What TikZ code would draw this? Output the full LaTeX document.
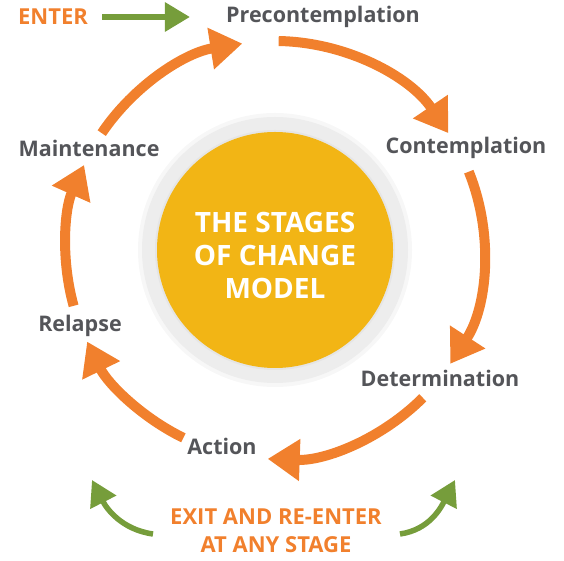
\documentclass[tikz,border=0pt]{standalone}
\usepackage{fontspec}
\setmainfont{Open Sans}
\usetikzlibrary{arrows.meta,calc}

\definecolor{cycleorange}{RGB}{241,128,45}
\definecolor{entergreen}{RGB}{118,157,59}
\definecolor{hubyellow}{RGB}{242,181,21}
\definecolor{stagegrey}{RGB}{84,85,89}

\begin{document}
\begin{tikzpicture}[x=1pt,y=1pt,
	stage/.style={text=stagegrey,font=\bfseries\fontsize{21.5}{24}\selectfont,inner sep=0pt},
	cue/.style={text=cycleorange,font=\bfseries\fontsize{22}{28}\selectfont,inner sep=0pt,align=center},
	cyclearrow/.style={line width=10pt,draw=cycleorange,-{Triangle[length=32pt,width=40pt]}},
	greenarrow/.style={line width=6pt,draw=entergreen,-{Triangle[length=25pt,width=28pt]}}]

	\useasboundingbox (0,0) rectangle (564,561);

	% the hub with its grey rim
	\fill[black!3] (275,311) circle (137);
	\fill[black!7] (275,311) circle (133);
	\fill[black!10] (275,311) circle (120);
	\node[circle,fill=hubyellow,minimum size=236pt,inner sep=0pt] (hub) at (275,311) {};
	\node[text=white,font=\bfseries\fontsize{28}{33}\selectfont,align=center] (title) at ([yshift=-6pt]hub.center) {THE STAGES\\OF CHANGE\\MODEL};

	% stages round the cycle
	\node[stage] (pre) at (323,544) {Precontemplation};
	\node[stage] (con) at (466,413) {Contemplation};
	\node[stage] (det) at (440,183) {Determination};
	\node[stage] (act) at (222,115) {Action};
	\node[stage] (rel) at (80,235) {Relapse};
	\node[stage] (mai) at (89,413) {Maintenance};

	\node[cue] (enter) at (53,544) {ENTER};
	\node[cue] (exit) at (276,30) {EXIT AND RE-ENTER\\AT ANY STAGE};

	% arcs between the stages
	\foreach \a/\b [count=\i] in {89/34, 22/-33, -45/-92, -116/-154, 195.5/156, 146/99}{
		\coordinate (arc\i) at ($(hub)+(\a:209)$);
		\draw[cyclearrow] (arc\i) arc[start angle=\a, end angle=\b, radius=209];
	}

	\draw[greenarrow] ([xshift=14pt]enter.east) -- ([xshift=-36pt]pre.west);

	\coordinate (exitl) at (153,27);
	\coordinate (exitltip) at (92,81);
	\coordinate (exitr) at (400,27);
	\coordinate (exitrtip) at (455,81);
	\draw[greenarrow,line width=5.5pt] (exitl) to[out=172,in=-63] (exitltip);
	\draw[greenarrow,line width=5.5pt] (exitr) to[out=8,in=-117] (exitrtip);

\end{tikzpicture}
\end{document}
